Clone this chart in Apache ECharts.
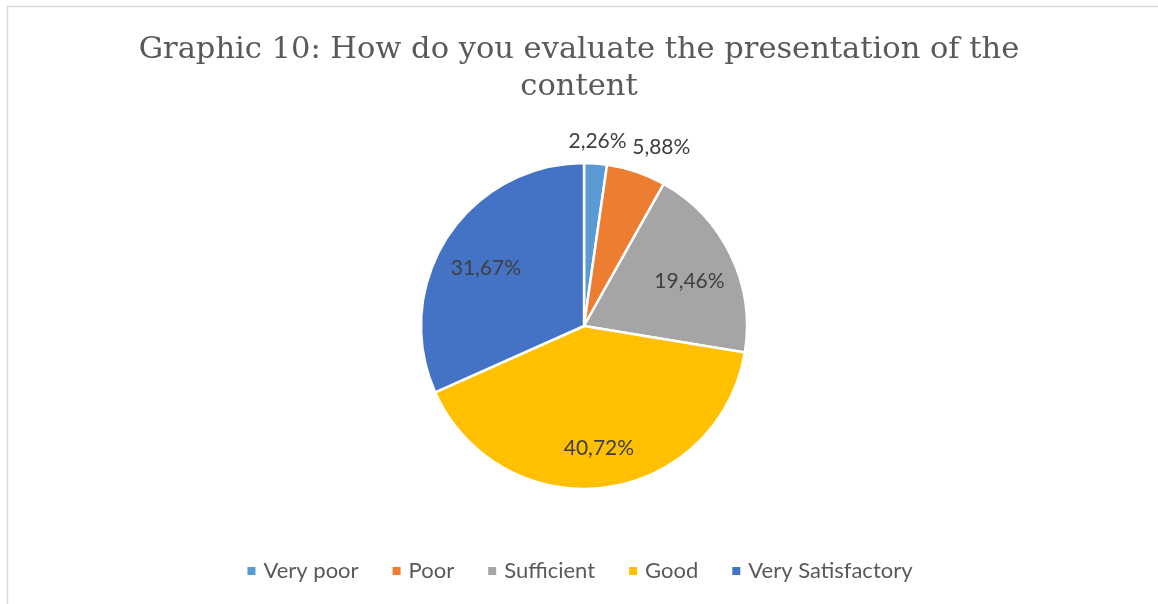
<!DOCTYPE html>
<html>
<head>
<meta charset="utf-8">
<script src="https://cdn.jsdelivr.net/npm/echarts@6/dist/echarts.min.js"></script>
<style>
  html, body { margin: 0; padding: 0; background: #fff; }
  #chart { width: 1158px; height: 604px; }
</style>
</head>
<body>
<div id="chart"></div>
<script>
// data
const categories = ['Very poor', 'Poor', 'Sufficient', 'Good', 'Very Satisfactory']
const values = [2.26, 5.88, 19.46, 40.72, 31.67]
const sliceColors = ['#5B9BD5', '#ED7D31', '#A5A5A5', '#FFC000', '#4472C4']
const outerLabelCats = ['Very poor', 'Poor'] // these labels sit outside the pie

const titleText = 'Graphic 10: How do you evaluate the presentation of the\ncontent'
const center = [584, 326]

const fmt = v => v.toFixed(2).replace('.', ',') + '%'

const pieData = categories.map((name, i) => ({
    name: name,
    value: values[i],
    itemStyle: { color: sliceColors[i] }
}))

// transparent rings that only carry the value labels
function labelRing (radius, showFor, extra) {
    return {
        type: 'pie',
        silent: true,
        center: center,
        radius: radius,
        startAngle: 90,
        clockwise: true,
        legendHoverLink: false,
        itemStyle: { color: 'rgba(0,0,0,0)', borderWidth: 0 },
        emphasis: { disabled: true },
        labelLine: { show: false },
        data: categories.map((name, i) => ({
            name: name,
            value: values[i],
            label: {
                show: showFor(name),
                position: 'inside',
                formatter: fmt(values[i]),
                fontFamily: 'Lato, "Open Sans", sans-serif',
                fontSize: 21,
                color: '#404040',
                offset: (extra && name === 'Poor') ? [16, 2] : [0, 6]
            }
        }))
    }
}

const chart = echarts.init(document.getElementById('chart'))
chart.setOption({
    backgroundColor: '#fff',
    animation: false,
    graphic: [{
        type: 'rect',
        shape: { x: 7.5, y: 6.5, width: 1200, height: 700 },
        style: { fill: 'none', stroke: '#d9d9d9', lineWidth: 1.5 },
        silent: true
    }],
    title: {
        text: titleText,
        left: 'center',
        top: 27,
        textStyle: {
            fontFamily: '"DejaVu Serif", serif',
            fontWeight: 'normal',
            fontSize: 30.5,
            lineHeight: 37,
            color: '#595959'
        }
    },
    legend: {
        bottom: 17,
        left: 'center',
        icon: 'rect',
        itemWidth: 10,
        itemHeight: 10,
        itemGap: 32,
        data: categories,
        textStyle: {
            fontFamily: 'Lato, "Open Sans", sans-serif',
            fontSize: 22,
            color: '#595959',
            padding: [0, 0, 0, 2]
        }
    },
    series: [
        {
            type: 'pie',
            center: center,
            radius: [0, 163],
            startAngle: 90,
            clockwise: true,
            label: { show: false },
            labelLine: { show: false },
            itemStyle: { borderColor: '#fff', borderWidth: 2.5 },
            emphasis: { disabled: true },
            data: pieData
        },
        labelRing([0, 228], name => outerLabelCats.indexOf(name) < 0, false),
        labelRing([176, 200], name => outerLabelCats.indexOf(name) >= 0, true)
    ]
})
</script>
</body>
</html>
